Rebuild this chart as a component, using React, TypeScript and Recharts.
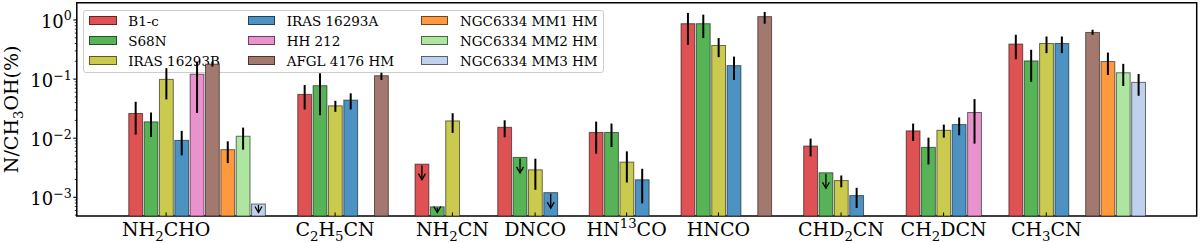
import React from 'react';
import { BarChart, Bar, XAxis, YAxis, ErrorBar, ReferenceArea } from 'recharts';

// Category tick labels (mathtext-like markup: _ = subscript, ^{} = superscript)
const categories = ['NH_2CHO', 'C_2H_5CN', 'NH_2CN', 'DNCO', 'HN^{13}CO', 'HNCO', 'CHD_2CN', 'CH_2DCN', 'CH_3CN'];
// x value of each category (centre of the 3rd bar slot), in bar-width units
const categoryX = [5.82, 16.83, 24.47, 29.86, 35.82, 41.8, 49.79, 56.47, 63.16];

const seriesNames = [
  'B1-c', 'S68N', 'IRAS 16293B',
  'IRAS 16293A', 'HH 212', 'AFGL 4176 HM',
  'NGC6334 MM1 HM', 'NGC6334 MM2 HM', 'NGC6334 MM3 HM',
];
const seriesColors = ['#de5253', '#56b356', '#c9ca4e', '#4c92c3', '#e992ce', '#a3786f', '#ff993e', '#ade5a1', '#bed2ed'];

// Entry: [value, lower, upper] (percent) ; [value] alone = upper limit ; null = no data
type Entry = [number, number, number] | [number] | null;
const b1c: Entry[] = [[0.0262, 0.0115, 0.0413], [0.0551, 0.0306, 0.0794], [0.00364], [0.0153, 0.01036, 0.0201], [0.0125, 0.00547, 0.0191], [0.865, 0.38, 1.315], [0.00737, 0.00492, 0.00985], [0.0133, 0.00896, 0.0177], [0.391, 0.217, 0.562]];
const s68n: Entry[] = [[0.0189, 0.0105, 0.0272], [0.0773, 0.0245, 0.1255], [0.00069], [0.00473], [0.0125, 0.00708, 0.0177], [0.865, 0.494, 1.23], [0.0026], [0.007, 0.0036, 0.01023], [0.203, 0.0903, 0.313]];
const iras16293b: Entry[] = [[0.099, 0.0453, 0.153], [0.0353, 0.0279, 0.0429], [0.0196, 0.0123, 0.0265], [0.00292, 0.00134, 0.0045], [0.00394, 0.00178, 0.00599], [0.37, 0.235, 0.494], [0.00192, 0.00148, 0.00234], [0.0136, 0.01023, 0.017], [0.4, 0.275, 0.526]];
const iras16293a: Entry[] = [[0.0092, 0.00512, 0.0133], [0.0441, 0.0306, 0.0574], null, [0.0012], [0.00198, 0.00079, 0.00304], [0.169, 0.0966, 0.24], [0.00107, 0.00066, 0.00145], [0.017, 0.0112, 0.0224], [0.4, 0.275, 0.526]];
const hh212: Entry[] = [[0.121, 0.0268, 0.198], null, null, null, null, null, null, [0.0272, 0.0081, 0.0459], null];
const afgl4176: Entry[] = [[0.179, 0.163, 0.198], [0.114, 0.0966, 0.128], null, null, null, [1.14, 0.865, 1.368], null, null, [0.615, 0.562, 0.684]];
const mm1: Entry[] = [[0.0064, 0.00379, 0.00886], null, null, null, null, null, null, null, [0.198, 0.1174, 0.281]];
const mm2: Entry[] = [[0.0108, 0.0064, 0.0151], null, null, null, null, null, null, null, [0.128, 0.0763, 0.181]];
const mm3: Entry[] = [[0.00077], null, null, null, null, null, null, null, [0.088, 0.0522, 0.122]];

const seriesValues = [b1c, s68n, iras16293b, iras16293a, hh212, afgl4176, mm1, mm2, mm3];

const majorTicks = [1e-3, 1e-2, 1e-1, 1];

const Y_MIN = 4.83e-4;
const Y_MAX = 1.96;
const X_MAX = 72.96;
const FONT = "'DejaVu Serif', serif";

const minorTicks: number[] = [];
for (let e = -4; e <= 0; e++) {
  for (let m = 2; m <= 9; m++) {
    const t = m * Math.pow(10, e);
    if (t > Y_MIN && t < Y_MAX) minorTicks.push(t);
  }
}
const yTicks = [...majorTicks, ...minorTicks].sort((a, b) => a - b);

const rows: any[] = [];
seriesValues.forEach((vals, s) => {
  vals.forEach((e, c) => {
    if (!e) return;
    const v = e[0];
    const isLimit = e.length === 1;
    rows.push({
      x: categoryX[c] + s - 2,
      value: v,
      err: isLimit ? undefined : [v - (e as number[])[1], (e as number[])[2] - v],
      color: seriesColors[s],
      limit: isLimit,
    });
  });
});

function parseMarkup(s: string) {
  const segs: { t: string; k: number }[] = [];
  let i = 0;
  let cur = '';
  while (i < s.length) {
    const ch = s[i];
    if (ch === '_' || ch === '^') {
      if (cur) segs.push({ t: cur, k: 0 });
      cur = '';
      let t = '';
      if (s[i + 1] === '{') {
        const j = s.indexOf('}', i);
        t = s.slice(i + 2, j);
        i = j + 1;
      } else {
        t = s[i + 1];
        i += 2;
      }
      segs.push({ t, k: ch === '_' ? 1 : -1 });
    } else {
      cur += ch;
      i++;
    }
  }
  if (cur) segs.push({ t: cur, k: 0 });
  return segs;
}

const renderSegs = (label: string, size: number) => {
  const segs = parseMarkup(label);
  let prev = 0;
  return segs.map((sg, i) => {
    const shift = sg.k === 1 ? size * 0.27 : sg.k === -1 ? -size * 0.42 : 0;
    const dy = shift - prev;
    prev = shift;
    return (
      <tspan key={i} dy={dy} fontSize={sg.k === 0 ? size : size * 0.7}>
        {sg.t}
      </tspan>
    );
  });
};

const XTick = (props: any) => {
  const { x, y, payload } = props;
  const idx = categoryX.indexOf(payload.value);
  const label = categories[idx] ?? '';
  return (
    <g>
      <line x1={x} x2={x} y1={y} y2={y - 3.5} stroke="#000" strokeWidth={1} />
      <text x={x} y={y + 20} textAnchor="middle" fontFamily={FONT} fontSize={19} fill="#000">
        {renderSegs(label, 19)}
      </text>
    </g>
  );
};

const YTick = (props: any) => {
  const { x, y, payload } = props;
  const v = payload.value;
  const lg = Math.log10(v);
  const major = Math.abs(lg - Math.round(lg)) < 1e-6;
  if (!major) {
    return <line x1={x - 2} x2={x} y1={y} y2={y} stroke="#000" strokeWidth={0.8} />;
  }
  const exp = Math.round(lg);
  return (
    <g>
      <line x1={x - 3.5} x2={x} y1={y} y2={y} stroke="#000" strokeWidth={1.1} />
      <text x={x - 5} y={y + 8} textAnchor="end" fontFamily={FONT} fontSize={18} fill="#000">
        10
        <tspan dy={-7.5} fontSize={12.6}>
          {exp < 0 ? '\u2212' + -exp : String(exp)}
        </tspan>
      </text>
    </g>
  );
};

const BarShape = (props: any) => {
  const { x, y, width, height } = props;
  const p = props.payload ?? props;
  if (!(height > 0)) return null;
  const cx = x + width / 2;
  let arrow = null;
  if (p.limit) {
    const L = Math.min(15.5, height - 3.5);
    const tip = y + L;
    arrow = (
      <g stroke="#000" strokeWidth={1.3} fill="none">
        <line x1={cx} x2={cx} y1={y + 1} y2={tip} />
        <polyline points={`${cx - 3.5},${tip - 6} ${cx},${tip} ${cx + 3.5},${tip - 6}`} />
      </g>
    );
  }
  return (
    <g>
      <rect x={x} y={y} width={width} height={height} fill={p.color} stroke="rgba(0,0,0,0.55)" strokeWidth={1} />
      {arrow}
    </g>
  );
};

const YLabel = (props: any) => {
  const vb = props.viewBox || { x: 0, y: 0, width: 0, height: 0 };
  const cy = vb.y + vb.height / 2;
  return (
    <text transform={`translate(18,${cy}) rotate(-90)`} textAnchor="middle" fontFamily={FONT} fontSize={19} fill="#000">
      N/CH
      <tspan dy={5} fontSize={13.3}>3</tspan>
      <tspan dy={-5}>OH(%)</tspan>
    </text>
  );
};

const legendCols = [5.3, 163.7, 337];

export default function App() {
  return (
    <div style={{ position: 'fixed', left: 0, top: 0, width: 1200, height: 243, background: '#fff', overflow: 'hidden' }}>
      <div
        style={{
          position: 'absolute',
          left: 83,
          top: 10,
          width: 519,
          height: 61,
          border: '1px solid #cccccc',
          borderRadius: 3,
          background: 'rgba(255,255,255,0.8)',
          fontFamily: FONT,
          fontSize: 13.5,
          zIndex: 0,
        }}
      >
        {seriesNames.map((n, i) => {
          const col = Math.floor(i / 3);
          const row = i % 3;
          return (
            <div
              key={n}
              style={{
                position: 'absolute',
                left: legendCols[col],
                top: 5 + row * 20,
                height: 9,
                display: 'flex',
                alignItems: 'center',
                whiteSpace: 'nowrap',
              }}
            >
              <div style={{ width: 27.4, height: 9, boxSizing: 'border-box', background: seriesColors[i], border: '1px solid rgba(0,0,0,0.55)' }} />
              <span style={{ marginLeft: 11.6, lineHeight: 1, position: 'relative', top: 1 }}>{n}</span>
            </div>
          );
        })}
      </div>
      <div style={{ position: 'absolute', left: 0, top: 0, zIndex: 1 }}>
        <BarChart width={1200} height={243} data={rows} margin={{ top: 2.7, right: 3.3, bottom: 0, left: 0 }}>
          <XAxis
            type="number"
            dataKey="x"
            domain={[0, X_MAX]}
            allowDataOverflow
            ticks={categoryX}
            interval={0}
            tick={<XTick />}
            tickLine={false}
            tickSize={0}
            tickMargin={0}
            axisLine={false}
            height={27}
          />
          <YAxis
            type="number"
            scale="log"
            domain={[Y_MIN, Y_MAX]}
            allowDataOverflow
            ticks={yTicks}
            interval={0}
            tick={<YTick />}
            tickLine={false}
            tickSize={0}
            tickMargin={0}
            axisLine={false}
            width={76.8}
            label={{ content: (p: any) => <YLabel {...p} /> }}
          />
          <Bar dataKey="value" barSize={15.35} isAnimationActive={false} shape={<BarShape />}>
            <ErrorBar dataKey="err" width={0} stroke="#000" strokeWidth={2} direction="y" />
          </Bar>
          <ReferenceArea x1={0} x2={X_MAX} y1={Y_MIN} y2={Y_MAX} fill="none" stroke="#000" strokeWidth={1.5} ifOverflow="visible" />
        </BarChart>
      </div>
    </div>
  );
}
